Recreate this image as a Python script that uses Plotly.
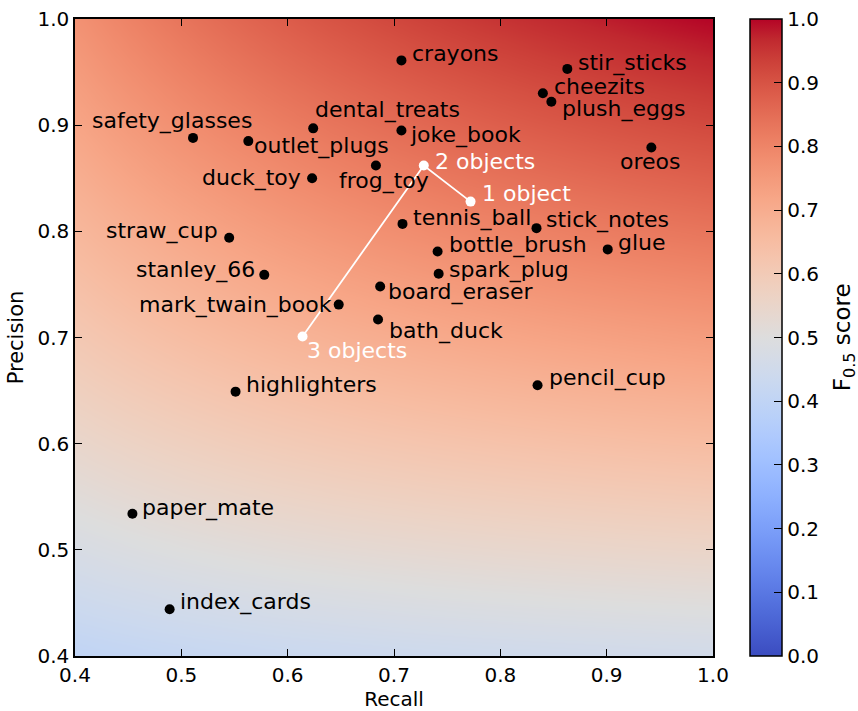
import numpy as np
import plotly.graph_objects as go

# ---- data ----
object_names = ["crayons", "stir_sticks", "cheezits", "plush_eggs", "oreos",
                "safety_glasses", "outlet_plugs", "dental_treats", "joke_book",
                "frog_toy", "duck_toy", "tennis_ball", "stick_notes", "glue",
                "bottle_brush", "spark_plug", "board_eraser", "bath_duck",
                "mark_twain_book", "straw_cup", "stanley_66", "highlighters",
                "pencil_cup", "paper_mate", "index_cards"]
object_recall = [0.707, 0.863, 0.840, 0.848, 0.942,
                 0.511, 0.563, 0.624, 0.707,
                 0.683, 0.623, 0.708, 0.834, 0.901,
                 0.741, 0.742, 0.687, 0.685,
                 0.648, 0.545, 0.578, 0.551,
                 0.835, 0.454, 0.489]
object_precision = [0.961, 0.953, 0.930, 0.922, 0.879,
                    0.888, 0.885, 0.897, 0.895,
                    0.862, 0.850, 0.807, 0.803, 0.783,
                    0.781, 0.760, 0.748, 0.717,
                    0.731, 0.794, 0.759, 0.649,
                    0.655, 0.534, 0.444]

summary_names = ["1 object", "2 objects", "3 objects"]
summary_recall = [0.772, 0.728, 0.614]
summary_precision = [0.828, 0.862, 0.701]

colorbar_ticks = [0.0, 0.1, 0.2, 0.3, 0.4, 0.5, 0.6, 0.7, 0.8, 0.9, 1.0]
axis_ticks = [0.4, 0.5, 0.6, 0.7, 0.8, 0.9, 1.0]
beta = 0.5

# ---- label placement (style) : xanchor, dx px, dy px (down positive) ----
label_style = {
    "crayons": ("left", 11, -7), "stir_sticks": ("left", 11, -6),
    "cheezits": ("left", 11, -7), "plush_eggs": ("left", 11, 7),
    "oreos": ("center", -1, 14), "safety_glasses": ("right", 59, -17),
    "outlet_plugs": ("left", 6, 5), "dental_treats": ("left", 2, -18),
    "joke_book": ("left", 9, 5), "frog_toy": ("left", -37, 15),
    "duck_toy": ("right", -11, 0), "tennis_ball": ("left", 10, -6),
    "stick_notes": ("left", 10, -8), "glue": ("left", 10, -7),
    "bottle_brush": ("left", 11, -7), "spark_plug": ("left", 10, -4),
    "board_eraser": ("left", 8, 5), "bath_duck": ("left", 11, 12),
    "mark_twain_book": ("right", -7, 0), "straw_cup": ("right", -11, -7),
    "stanley_66": ("right", -9, -5), "highlighters": ("left", 10, -7),
    "pencil_cup": ("left", 11, -7), "paper_mate": ("left", 10, -6),
    "index_cards": ("left", 10, -7),
    "1 object": ("left", 11, -8), "2 objects": ("left", 11, -4),
    "3 objects": ("left", 4, 14),
}
pad_fix = {"left": -2, "right": 2, "center": 0}

coolwarm = [
    (0.0, (59, 76, 192)), (0.03125, (68, 90, 204)), (0.0625, (77, 104, 215)),
    (0.09375, (87, 117, 225)), (0.125, (98, 130, 234)), (0.15625, (108, 142, 241)),
    (0.1875, (119, 154, 247)), (0.21875, (130, 165, 251)), (0.25, (141, 176, 254)),
    (0.28125, (152, 185, 255)), (0.3125, (163, 194, 255)), (0.34375, (174, 201, 253)),
    (0.375, (184, 208, 249)), (0.40625, (194, 213, 244)), (0.4375, (204, 217, 238)),
    (0.46875, (213, 219, 230)), (0.5, (221, 221, 221)), (0.53125, (229, 216, 209)),
    (0.5625, (236, 211, 197)), (0.59375, (241, 204, 185)), (0.625, (245, 196, 173)),
    (0.65625, (247, 187, 160)), (0.6875, (247, 177, 148)), (0.71875, (247, 166, 135)),
    (0.75, (244, 154, 123)), (0.78125, (241, 141, 111)), (0.8125, (236, 127, 99)),
    (0.84375, (229, 112, 88)), (0.875, (222, 96, 77)), (0.90625, (213, 80, 66)),
    (0.9375, (203, 62, 56)), (0.96875, (192, 40, 47)), (1.0, (180, 4, 38)),
]
colorscale = [[s, "rgb(%d,%d,%d)" % c] for s, c in coolwarm]

# F-beta surface
gx = np.linspace(0.4, 1.0, 301)
gy = np.linspace(0.4, 1.0, 301)
R, P = np.meshgrid(gx, gy)
Z = (1 + beta ** 2) * P * R / (beta ** 2 * P + R)

FONT = "DejaVu Sans"
fig = go.Figure()
fig.add_trace(go.Heatmap(
    x=gx, y=gy, z=Z, zmin=0, zmax=1, colorscale=colorscale, zsmooth="best",
    hoverinfo="skip",
    colorbar=dict(
        x=1.058, xanchor="left", y=0.5, yanchor="middle", len=1, lenmode="fraction",
        thickness=32, xpad=0, ypad=0, outlinecolor="black", outlinewidth=1.5,
        tickmode="array", tickvals=colorbar_ticks,
        ticktext=["%.1f" % t for t in colorbar_ticks],
        ticks="inside", ticklen=8, tickcolor="black",
        tickfont=dict(family=FONT, size=20, color="black"),
    ),
))

fig.add_trace(go.Scatter(
    x=object_recall, y=object_precision, mode="markers",
    marker=dict(color="black", size=10), hoverinfo="skip", showlegend=False,
))
fig.add_trace(go.Scatter(
    x=summary_recall, y=summary_precision, mode="lines+markers",
    line=dict(color="white", width=1.8),
    marker=dict(color="white", size=10), hoverinfo="skip", showlegend=False,
))

annotations = []
for names, xs, ys, col in [(object_names, object_recall, object_precision, "black"),
                           (summary_names, summary_recall, summary_precision, "white")]:
    for n, xv, yv in zip(names, xs, ys):
        anchor, dx, dy = label_style[n]
        annotations.append(dict(
            x=xv, y=yv, xref="x", yref="y", text=n, showarrow=False,
            xanchor=anchor, yanchor="middle", xshift=dx + pad_fix[anchor], yshift=-dy,
            font=dict(family=FONT, size=22, color=col),
        ))

# colorbar label
annotations.append(dict(
    x=1.205, y=0.5, xref="paper", yref="paper", text="F<sub>0.5</sub> score",
    textangle=-90, showarrow=False, xanchor="center", yanchor="middle",
    font=dict(family=FONT, size=23, color="black"),
))

axis_common = dict(
    range=[0.4, 1.0], tickmode="array", tickvals=axis_ticks,
    ticktext=["%.1f" % t for t in axis_ticks],
    ticks="inside", ticklen=7, tickcolor="black", tickwidth=1,
    showline=True, linecolor="black", linewidth=1.5, mirror="ticks",
    showgrid=False, zeroline=False,
    tickfont=dict(family=FONT, size=20, color="black"),
)
fig.update_xaxes(**axis_common, title=dict(text="Recall", standoff=2,
                 font=dict(family=FONT, size=20, color="black")))
fig.update_yaxes(**axis_common, title=dict(text="Precision", standoff=8,
                 font=dict(family=FONT, size=21, color="black")))

fig.update_layout(
    width=858, height=711,
    margin=dict(l=75, r=145, t=19, b=55, autoexpand=False),
    plot_bgcolor="white", paper_bgcolor="white",
    annotations=annotations, showlegend=False,
    font=dict(family=FONT, color="black"),
)

fig.write_html("out.html", config={"displayModeBar": False},
               post_script="document.body.style.margin='0px';")
